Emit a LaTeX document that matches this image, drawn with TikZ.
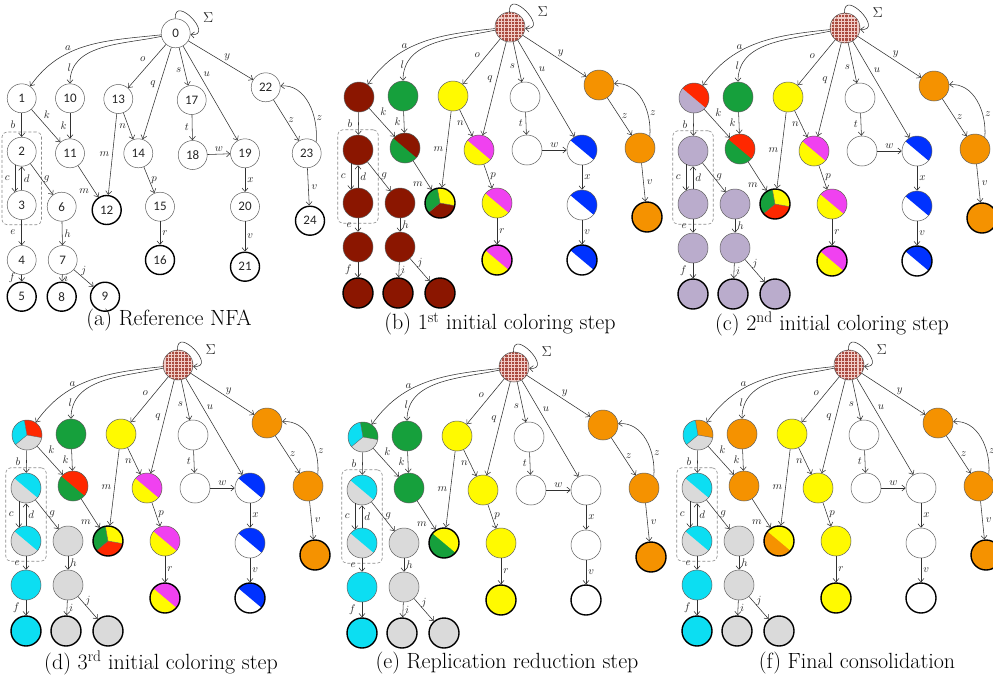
\documentclass[tikz,border=0pt]{standalone}
\usepackage{fontspec}
\newfontfamily\numfont{Carlito}
\usetikzlibrary{arrows.meta,patterns.meta,fit}
\definecolor{cM}{RGB}{139,22,0}
\definecolor{cG}{RGB}{22,160,60}
\definecolor{cY}{RGB}{255,250,0}
\definecolor{cO}{RGB}{245,146,0}
\definecolor{cMg}{RGB}{240,65,240}
\definecolor{cB}{RGB}{0,50,255}
\definecolor{cL}{RGB}{186,172,204}
\definecolor{cR}{RGB}{255,40,0}
\definecolor{cC}{RGB}{12,222,242}
\definecolor{cGr}{RGB}{218,218,218}
\definecolor{cPat}{RGB}{170,75,65}
\definecolor{cPatL}{RGB}{240,205,200}
\definecolor{cLine}{RGB}{50,50,50}
\definecolor{cBorder}{RGB}{95,95,95}
\tikzset{
  nd/.style={circle, minimum size=30pt, inner sep=0pt, draw=cBorder, line width=0.5pt, fill=white},
  acc/.style={draw=black, line width=1.4pt},
  ed/.style={draw=cLine, line width=0.55pt, -{Straight Barb[length=3.5pt,width=6pt]}},
  lbl/.style={font=\fontsize{11}{11}\selectfont, inner sep=2pt, text=black!85},
  captxt/.style={font=\fontsize{22}{22}\selectfont, inner sep=0pt},
  dbox/.style={draw=black!45, dash pattern=on 3pt off 2pt, rounded corners=5pt, inner sep=5pt, line width=0.6pt},
  half/.style 2 args={fill=#1, path picture={\fill[#2] (path picture bounding box.center) -- ++(140:20pt) arc[start angle=140, end angle=-40, radius=20pt] -- cycle;}},
  tri/.style n args={3}{fill=#3, path picture={
     \fill[#1] (path picture bounding box.center) -- ++(100:20pt) arc[start angle=100, end angle=220, radius=20pt] -- cycle;
     \fill[#2] (path picture bounding box.center) -- ++(-10:20pt) arc[start angle=-10, end angle=100, radius=20pt] -- cycle;
     \draw[black!60, line width=0.4pt] (path picture bounding box.center) -- ++(100:20pt) (path picture bounding box.center) -- ++(220:20pt) (path picture bounding box.center) -- ++(-10:20pt);}},
  patfill/.style={fill=cPat, path picture={\fill[pattern={Hatch[angle=0, distance=3.3pt, line width=1.1pt]}, pattern color=cPatL] (path picture bounding box.south west) rectangle (path picture bounding box.north east);}},
  na/.style={nd, minimum size=29pt, font=\numfont\fontsize{13}{13}\selectfont, text=black!85},
  % panel b
  sb0/.style={patfill}, sb1/.style={fill=cM}, sb2/.style={fill=cM}, sb3/.style={fill=cM}, sb4/.style={fill=cM},
  sb5/.style={fill=cM}, sb6/.style={fill=cM}, sb7/.style={fill=cM}, sb8/.style={fill=cM}, sb9/.style={fill=cM},
  sb10/.style={fill=cG}, sb11/.style={half={cG}{cM}}, sb12/.style={tri={cG}{cY}{cM}}, sb13/.style={fill=cY},
  sb14/.style={half={cY}{cMg}}, sb15/.style={half={cY}{cMg}}, sb16/.style={half={cY}{cMg}},
  sb17/.style={fill=white}, sb18/.style={fill=white}, sb19/.style={half={white}{cB}}, sb20/.style={half={white}{cB}},
  sb21/.style={half={white}{cB}}, sb22/.style={fill=cO}, sb23/.style={fill=cO}, sb24/.style={fill=cO},
  % panel c
  sc0/.style={patfill}, sc1/.style={half={cL}{cR}}, sc2/.style={fill=cL}, sc3/.style={fill=cL}, sc4/.style={fill=cL},
  sc5/.style={fill=cL}, sc6/.style={fill=cL}, sc7/.style={fill=cL}, sc8/.style={fill=cL}, sc9/.style={fill=cL},
  sc10/.style={fill=cG}, sc11/.style={half={cG}{cR}}, sc12/.style={tri={cG}{cY}{cR}}, sc13/.style={sb13},
  sc14/.style={sb14}, sc15/.style={sb15}, sc16/.style={sb16}, sc17/.style={sb17}, sc18/.style={sb18},
  sc19/.style={sb19}, sc20/.style={sb20}, sc21/.style={sb21}, sc22/.style={sb22}, sc23/.style={sb23}, sc24/.style={sb24},
  % panel d
  sd0/.style={patfill}, sd1/.style={tri={cC}{cR}{cGr}}, sd2/.style={half={cGr}{cC}}, sd3/.style={half={cGr}{cC}},
  sd4/.style={fill=cC}, sd5/.style={fill=cC}, sd6/.style={fill=cGr}, sd7/.style={fill=cGr}, sd8/.style={fill=cGr},
  sd9/.style={fill=cGr}, sd10/.style={sc10}, sd11/.style={sc11}, sd12/.style={sc12}, sd13/.style={sb13},
  sd14/.style={sb14}, sd15/.style={sb15}, sd16/.style={sb16}, sd17/.style={sb17}, sd18/.style={sb18},
  sd19/.style={sb19}, sd20/.style={sb20}, sd21/.style={sb21}, sd22/.style={sb22}, sd23/.style={sb23}, sd24/.style={sb24},
  % panel e
  se0/.style={patfill}, se1/.style={tri={cC}{cG}{cGr}}, se2/.style={sd2}, se3/.style={sd3}, se4/.style={sd4},
  se5/.style={sd5}, se6/.style={sd6}, se7/.style={sd7}, se8/.style={sd8}, se9/.style={sd9},
  se10/.style={fill=cG}, se11/.style={fill=cG}, se12/.style={half={cG}{cY}}, se13/.style={fill=cY},
  se14/.style={fill=cY}, se15/.style={fill=cY}, se16/.style={fill=cY}, se17/.style={fill=white}, se18/.style={fill=white},
  se19/.style={fill=white}, se20/.style={fill=white}, se21/.style={fill=white}, se22/.style={fill=cO}, se23/.style={fill=cO}, se24/.style={fill=cO},
  % panel f
  sf0/.style={patfill}, sf1/.style={tri={cC}{cO}{cGr}}, sf2/.style={sd2}, sf3/.style={sd3}, sf4/.style={sd4},
  sf5/.style={sd5}, sf6/.style={sd6}, sf7/.style={sd7}, sf8/.style={sd8}, sf9/.style={sd9},
  sf10/.style={fill=cO}, sf11/.style={fill=cO}, sf12/.style={half={cO}{cY}}, sf13/.style={se13},
  sf14/.style={se14}, sf15/.style={se15}, sf16/.style={se16}, sf17/.style={se17}, sf18/.style={se18},
  sf19/.style={se19}, sf20/.style={se20}, sf21/.style={se21}, sf22/.style={se22}, sf23/.style={se23}, sf24/.style={se24},
}
\newcommand\placeB[3]{%
\node[nd, s#10] (#1-0) at (#2, -#3) {};
\node[nd, s#11] (#1-1) at (#2-151, -#3-70) {};
\node[nd, s#110] (#1-10) at (#2-107, -#3-69) {};
\node[nd, s#113] (#1-13) at (#2-57, -#3-69) {};
\node[nd, s#117] (#1-17) at (#2+15, -#3-70) {};
\node[nd, s#122] (#1-22) at (#2+89, -#3-58) {};
\node[nd, s#12] (#1-2) at (#2-152, -#3-123) {};
\node[nd, s#111] (#1-11) at (#2-105, -#3-121) {};
\node[nd, s#114] (#1-14) at (#2-31, -#3-123) {};
\node[nd, s#118] (#1-18) at (#2+17, -#3-123) {};
\node[nd, s#119] (#1-19) at (#2+72, -#3-123) {};
\node[nd, s#123] (#1-23) at (#2+130, -#3-121) {};
\node[nd, s#13] (#1-3) at (#2-152, -#3-176) {};
\node[nd, s#16] (#1-6) at (#2-110, -#3-176) {};
\node[nd, acc, s#112] (#1-12) at (#2-70, -#3-176) {};
\node[nd, s#115] (#1-15) at (#2-13, -#3-176) {};
\node[nd, s#120] (#1-20) at (#2+72, -#3-178) {};
\node[nd, acc, s#124] (#1-24) at (#2+137, -#3-190) {};
\node[nd, s#14] (#1-4) at (#2-152, -#3-220) {};
\node[nd, s#17] (#1-7) at (#2-110, -#3-220) {};
\node[nd, acc, s#116] (#1-16) at (#2-13, -#3-233) {};
\node[nd, acc, s#121] (#1-21) at (#2+72, -#3-233) {};
\node[nd, acc, s#15] (#1-5) at (#2-152, -#3-266) {};
\node[nd, acc, s#18] (#1-8) at (#2-112, -#3-266) {};
\node[nd, acc, s#19] (#1-9) at (#2-70, -#3-266) {};
\node[dbox, fit=(#1-2)(#1-3)] (#1-box) {};
}
\newcommand\drawedges[1]{%
\draw[ed] (#1-0.92) .. controls +(92:25) and +(-5:25) .. node[lbl, pos=0.5, right=9pt, font=\fontsize{14}{14}\selectfont] {$\Sigma$} (#1-0.-5);
\draw[ed] (#1-0) to[out=186, in=55] node[lbl, pos=0.65, above] {$a$} (#1-1);
\draw[ed] (#1-0) to[out=192, in=90] node[lbl, pos=0.85, left] {$l$} (#1-10);
\draw[ed] (#1-0) -- node[lbl, pos=0.35, left=5pt] {$o$} (#1-13);
\draw[ed] (#1-0) -- node[lbl, pos=0.4, left=2pt] {$q$} (#1-14);
\draw[ed] (#1-0) -- node[lbl, pos=0.6, left=1pt] {$s$} (#1-17);
\draw[ed] (#1-0) -- node[lbl, pos=0.3, right=2pt] {$u$} (#1-19);
\draw[ed] (#1-0) -- node[lbl, pos=0.6, above=1pt] {$y$} (#1-22);
\draw[ed] (#1-1) -- node[lbl, left=4pt] {$b$} (#1-2);
\draw[ed] (#1-1) -- node[lbl, pos=0.35, above right=0pt] {$k$} (#1-11);
\draw[ed] (#1-10) -- node[lbl, left=1pt] {$k$} (#1-11);
\draw[ed] (#1-2.242) -- node[lbl, left=3pt] {$c$} (#1-3.118);
\draw[ed] (#1-3) -- node[lbl, right=0pt] {$d$} (#1-2);
\draw[ed] (#1-2) -- node[lbl, right=0pt] {$g$} (#1-6);
\draw[ed] (#1-3) -- node[lbl, left=4pt] {$e$} (#1-4);
\draw[ed] (#1-4) -- node[lbl, left=4pt] {$f$} (#1-5);
\draw[ed] (#1-6) -- node[lbl, right=0pt] {$h$} (#1-7);
\draw[ed] (#1-7) -- node[lbl, right=0pt] {$i$} (#1-8);
\draw[ed] (#1-7) -- node[lbl, above=0pt] {$j$} (#1-9);
\draw[ed] (#1-11) -- node[lbl, pos=0.8, left=3pt] {$m$} (#1-12);
\draw[ed] (#1-13) -- node[lbl, left=1pt] {$m$} (#1-12);
\draw[ed] (#1-13) -- node[lbl, left=0pt] {$n$} (#1-14);
\draw[ed] (#1-14) -- node[lbl, right=0pt] {$p$} (#1-15);
\draw[ed] (#1-15) -- node[lbl, right=0pt] {$r$} (#1-16);
\draw[ed] (#1-17) -- node[lbl, left=1pt] {$t$} (#1-18);
\draw[ed] (#1-18) -- node[lbl, above=0pt] {$w$} (#1-19);
\draw[ed] (#1-19) -- node[lbl, right=0pt] {$x$} (#1-20);
\draw[ed] (#1-20) -- node[lbl, right=0pt] {$v$} (#1-21);
\draw[ed] (#1-22) -- node[lbl, right=0pt] {$z$} (#1-23);
\draw[ed] (#1-23.50) to[out=85, in=5] node[lbl, pos=0.3, right=0pt] {$z$} (#1-22);
\draw[ed] (#1-23) -- node[lbl, right=1pt] {$v$} (#1-24);
}
\begin{document}
\begin{tikzpicture}[x=1pt,y=1pt]
\useasboundingbox (0,0) rectangle (993,-678);
\fill[white] (0,0) rectangle (993,-678);
% ---------- panel (a)
\node[na] (a-0) at (175.7,-33.3) {0};
\node[na] (a-1) at (21.7,-98.3) {1};
\node[na] (a-10) at (70,-98.3) {10};
\node[na] (a-13) at (118.3,-99) {13};
\node[na] (a-17) at (191.7,-100) {17};
\node[na] (a-22) at (265.7,-87.3) {22};
\node[na] (a-2) at (21.7,-151.7) {2};
\node[na] (a-11) at (70,-153.3) {11};
\node[na] (a-14) at (138.3,-153.3) {14};
\node[na] (a-18) at (192.7,-155) {18};
\node[na] (a-19) at (245,-153.3) {19};
\node[na] (a-23) at (306.7,-153.3) {23};
\node[na] (a-3) at (21.7,-205) {3};
\node[na] (a-6) at (61.7,-206.7) {6};
\node[na, acc] (a-12) at (106.7,-210) {12};
\node[na] (a-15) at (160,-206.7) {15};
\node[na] (a-20) at (245,-206.7) {20};
\node[na, acc] (a-24) at (310,-220.7) {24};
\node[na] (a-4) at (21.7,-260) {4};
\node[na] (a-7) at (62.7,-260) {7};
\node[na, acc] (a-16) at (160,-260) {16};
\node[na, acc] (a-21) at (245,-266.7) {21};
\node[na, acc] (a-5) at (21.7,-296.7) {5};
\node[na, acc] (a-8) at (61.7,-296.7) {8};
\node[na, acc] (a-9) at (105,-296.7) {9};
\node[dbox, fit=(a-2)(a-3)] (a-box) {};
\drawedges{a}
% ---------- panels (b)-(f)
\placeB{b}{510}{27}   \drawedges{b}
\placeB{c}{845}{28}   \drawedges{c}
\placeB{d}{178}{365}  \drawedges{d}
\placeB{e}{514}{367}  \drawedges{e}
\placeB{f}{849}{365}  \drawedges{f}
% ---------- captions
\node[captxt] (capa) at (169,-320) {(a) Reference NFA};
\node[captxt] (capb) at (500,-324) {(b) 1\textsuperscript{st} initial coloring step};
\node[captxt] (capc) at (832,-324) {(c) 2\textsuperscript{nd} initial coloring step};
\node[captxt] (capd) at (161,-663) {(d) 3\textsuperscript{rd} initial coloring step};
\node[captxt] (cape) at (507,-663) {(e) Replication reduction step};
\node[captxt] (capf) at (857,-663) {(f) Final consolidation};
\end{tikzpicture}
\end{document}
